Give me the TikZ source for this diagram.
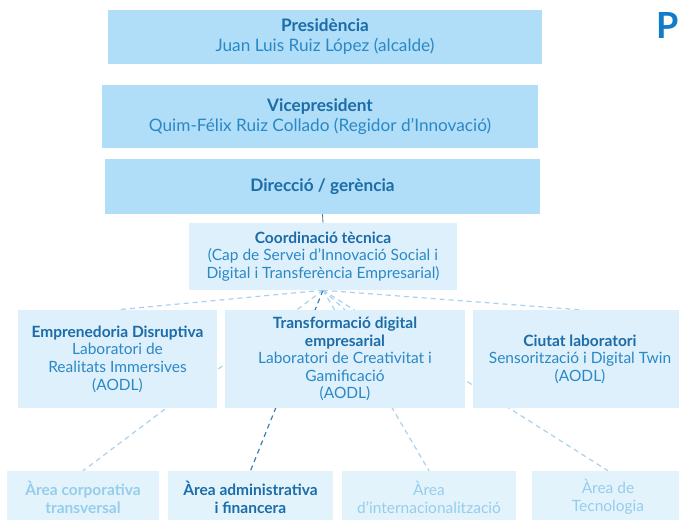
\documentclass[tikz,border=0pt]{standalone}
\usepackage{fontspec}
\setmainfont{Lato}
\definecolor{topfill}{RGB}{176,221,247}
\definecolor{midfill}{RGB}{221,240,251}
\definecolor{botfill}{RGB}{227,243,252}
\definecolor{headtxt}{RGB}{27,108,168}
\definecolor{bodytxt}{RGB}{42,136,198}
\definecolor{paletxt}{RGB}{150,205,235}
\definecolor{dashlight}{RGB}{168,210,236}
\definecolor{dashdark}{RGB}{58,128,184}
\definecolor{vline}{RGB}{80,112,145}
\definecolor{titleblue}{RGB}{18,124,200}
\pgfdeclarelayer{bg}
\pgfsetlayers{bg,main}
\tikzset{
  topbox/.style={fill=topfill, draw=none, inner sep=0pt, align=center, text=bodytxt,
    font=\fontsize{17.2}{20}\selectfont},
  midbox/.style={fill=midfill, draw=none, inner sep=0pt, align=center, text=bodytxt,
    font=\fontsize{15.5}{17.6}\selectfont},
  botbox/.style={fill=botfill, draw=none, inner sep=0pt, align=center, text=paletxt,
    minimum height=52pt, font=\fontsize{15.5}{18}\selectfont},
  lightdash/.style={draw=dashlight, line width=1.2pt, dash pattern=on 5pt off 4pt},
  darkdash/.style={draw=dashdark, line width=1.2pt, dash pattern=on 5pt off 4pt},
}
\newcommand{\hb}[1]{{\bfseries\color{headtxt}#1}}
\begin{document}
\begin{tikzpicture}[x=1pt,y=-1pt]
\useasboundingbox (0,0) rectangle (679,519);
% top level
\node[topbox, minimum width=434pt, minimum height=53pt] (pres) at (325,37)
  {\hb{Presidència}\\Juan Luis Ruiz López (alcalde)};
\node[topbox, minimum width=436pt, minimum height=63pt] (vice) at (320,116.5)
  {\hb{Vicepresident}\\Quim-Félix Ruiz Collado (Regidor d’Innovació)};
\node[topbox, minimum width=435pt, minimum height=55pt] (dir) at (322.5,186.5)
  {\hb{Direcció / gerència}};
% coordination
\node[midbox, minimum width=268pt, minimum height=67pt] (coord) at (323,256.5)
  {\hb{Coordinació tècnica}\\(Cap de Servei d’Innovació Social i\\Digital i Transferència Empresarial)};
% middle row
\node[midbox, minimum width=199pt, minimum height=98pt] (emp) at (117.5,359)
  {\hb{Emprenedoria Disruptiva}\\Laboratori de\\Realitats Immersives\\(AODL)};
\node[midbox, minimum width=240pt, minimum height=98pt] (trans) at (345,359)
  {\hb{Transformació digital}\\\hb{empresarial}\\Laboratori de Creativitat i\\Gamificació\\(AODL)};
\node[midbox, minimum width=214pt, minimum height=98pt] (ciutat) at (580,359)
  {\hb{Ciutat laboratori}\\Sensorització i Digital Twin\\(AODL)};
% bottom row
\node[botbox, minimum width=152pt] (corp) at (83,497)
  {\bfseries Àrea corporativa\\\bfseries transversal};
\node[botbox, minimum width=165pt, text=headtxt] (admin) at (250.5,497)
  {\bfseries Àrea administrativa\\\bfseries i financera};
\node[botbox, minimum width=174pt] (intern) at (429,497)
  {Àrea\\d’internacionalització};
\node[botbox, minimum width=152pt] (tecn) at (608,497)
  {Àrea de\\Tecnologia};
% title fragment
\node[anchor=north east, inner sep=0pt, text=titleblue, font=\fontsize{36}{36}\selectfont\bfseries] (title) at (678.5,12) {P};
% connectors
\begin{pgfonlayer}{bg}
\draw[vline, line width=0.8pt] (dir.south) -- (coord.north);
\draw[lightdash] (coord.south) -- (emp.north);
\draw[lightdash] (coord.south) -- (trans.north);
\draw[lightdash] (coord.south) -- (ciutat.north);
\draw[lightdash] (coord.south) -- (corp.north);
\draw[darkdash] (coord.south) -- (admin.north);
\draw[lightdash] (coord.south) -- (intern.north);
\draw[lightdash] (coord.south) -- (tecn.north);
\end{pgfonlayer}
\end{tikzpicture}
\end{document}
